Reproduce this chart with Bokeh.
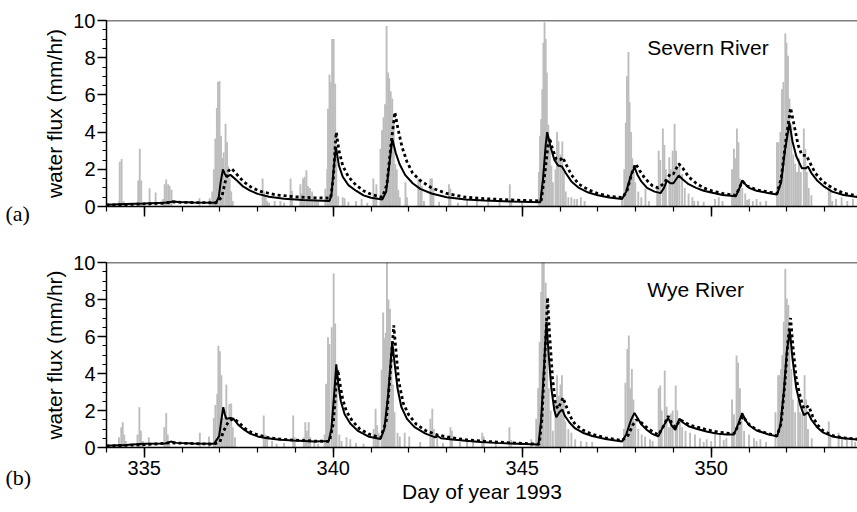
from bokeh.plotting import figure
from bokeh.models import Range1d, FixedTicker, Span, Label, CustomJSTickFormatter
from bokeh.layouts import column, row
from bokeh.core.properties import value
from bokeh.embed import file_html
from bokeh.resources import INLINE

# ---------------- data ----------------
x_major_ticks = [335, 340, 345, 350]
x_minor_ticks = list(range(334, 355))
y_major_ticks = [0, 2, 4, 6, 8, 10]
y_minor_ticks = [i * 0.5 for i in range(21)]

# Severn River: rainfall (grey bars)
severn_rain_day = [334.33, 334.35, 334.40, 334.45, 334.83, 334.84, 334.88, 334.92, 335.14, 335.30,
                   335.50, 335.54, 335.58, 335.63, 335.67, 335.72, 336.46, 336.73, 336.80, 336.84,
                   336.88, 336.92, 336.95, 336.99, 337.03, 337.06, 337.10, 337.15, 337.19, 337.22,
                   337.26, 337.30, 337.34, 338.13, 338.17, 338.21, 338.30, 338.45, 338.60, 338.87,
                   338.91, 339.13, 339.17, 339.20, 339.24, 339.29, 339.33, 339.38, 339.44, 339.50,
                   339.60, 339.79, 339.84, 339.86, 339.90, 339.93, 339.97, 340.01, 340.05, 340.08,
                   340.13, 340.25, 340.30, 340.60, 340.75, 341.06, 341.10, 341.14, 341.25, 341.29,
                   341.33, 341.37, 341.41, 341.45, 341.48, 341.52, 341.56, 341.60, 341.64, 341.68,
                   341.72, 341.76, 341.91, 341.95, 342.25, 342.30, 342.34, 342.57, 342.61, 342.65,
                   343.06, 343.10, 343.54, 343.80, 344.10, 344.40, 344.67, 344.71, 345.00, 345.44,
                   345.47, 345.50, 345.53, 345.56, 345.59, 345.62, 345.65, 345.69, 345.73, 345.77,
                   345.81, 345.88, 345.92, 345.96, 346.01, 346.06, 346.10, 346.15, 346.22, 346.30,
                   346.38, 346.55, 347.64, 347.70, 347.74, 347.77, 347.81, 347.84, 347.88, 347.91,
                   347.95, 347.99, 348.07, 348.15, 348.26, 348.57, 348.61, 348.65, 348.72, 348.76,
                   348.80, 348.89, 348.93, 348.98, 349.03, 349.07, 349.11, 349.16, 349.23, 349.30,
                   349.40, 349.50, 349.65, 349.80, 350.10, 350.20, 350.55, 350.60, 350.64, 350.68,
                   350.72, 350.76, 350.82, 350.90, 351.00, 351.20, 351.45, 351.74, 351.78, 351.83,
                   351.87, 351.91, 351.96, 351.99, 352.03, 352.07, 352.12, 352.17, 352.22, 352.27,
                   352.32, 352.37, 352.45, 352.49, 352.53, 352.58, 352.65, 353.11, 353.15, 353.30,
                   353.45, 353.60, 353.75, 338.25, 338.70, 339.55, 340.40, 340.90, 342.40, 342.80,
                   343.30, 346.45, 346.65, 348.35, 349.55, 350.30, 350.95, 351.10, 351.30, 353.20]
severn_rain_val = [0.3, 2.4, 2.56, 0.3, 0.3, 1.4, 3.1, 1.4, 0.98, 0.75,
                   0.4, 1.2, 1.45, 1.2, 1.1, 0.9, 0.45, 0.45, 0.8, 2.0,
                   3.65, 5.3, 6.7, 6.75, 3.8, 2.6, 2.9, 4.45, 3.45, 2.15,
                   1.55, 0.8, 0.3, 1.5, 0.8, 0.5, 0.2, 0.3, 0.3, 1.5,
                   0.85, 1.2, 0.7, 1.5, 1.6, 1.95, 1.1, 1.0, 0.8, 0.5,
                   0.3, 0.95, 2.0, 5.25, 7.1, 6.7, 9.0, 9.0, 6.6, 3.1,
                   0.55, 0.5, 0.45, 0.3, 0.4, 1.5, 0.5, 1.2, 3.1, 4.1,
                   4.8, 5.5, 9.7, 7.2, 6.9, 6.2, 5.8, 4.55, 2.3, 2.0,
                   0.9, 0.5, 1.3, 0.5, 1.5, 1.4, 1.1, 1.5, 1.5, 1.0,
                   1.2, 0.95, 0.4, 0.3, 0.3, 0.35, 1.2, 0.45, 0.2, 1.85,
                   3.8, 4.7, 6.3, 8.8, 9.9, 9.0, 7.2, 4.4, 3.4, 2.2,
                   1.3, 2.0, 4.0, 3.5, 2.8, 3.5, 1.85, 0.8, 0.5, 0.5,
                   0.4, 0.5, 0.5, 2.0, 4.5, 7.0, 8.3, 5.6, 4.0, 2.6,
                   1.85, 1.3, 0.8, 0.5, 0.95, 1.0, 3.0, 2.5, 4.2, 3.3,
                   2.0, 2.65, 2.0, 3.0, 4.45, 3.0, 2.0, 2.3, 1.75, 1.0,
                   0.7, 0.5, 0.3, 0.25, 0.4, 0.5, 2.0, 3.1, 2.6, 4.2,
                   3.45, 1.5, 1.0, 0.7, 0.4, 0.4, 0.3, 3.45, 3.45, 4.0,
                   6.3, 6.7, 9.3, 8.8, 8.1, 5.8, 4.4, 2.8, 2.3, 1.85,
                   2.6, 1.85, 4.2, 3.1, 1.85, 1.0, 0.6, 1.2, 0.8, 0.4,
                   0.5, 0.3, 0.4, 0.3, 0.2, 0.3, 0.25, 0.2, 0.3, 0.25,
                   0.2, 0.4, 0.3, 0.3, 0.3, 0.3, 0.35, 0.3, 0.25, 0.3]

# Severn River: solid line
severn_solid_day = [334.0, 334.5, 335.0, 335.5, 335.65, 335.75, 335.9, 336.3, 336.9, 336.97,
                    337.02, 337.08, 337.13, 337.18, 337.28, 337.45, 337.6, 337.8, 338.0, 338.3,
                    338.7, 339.2, 339.9, 339.95, 340.0, 340.07, 340.15, 340.25, 340.4, 340.6,
                    340.8, 341.0, 341.3, 341.4, 341.48, 341.56, 341.65, 341.75, 341.9, 342.1,
                    342.3, 342.6, 343.0, 343.5, 344.0, 344.7, 345.48, 345.55, 345.62, 345.66,
                    345.75, 345.85, 345.95, 346.05, 346.15, 346.3, 346.5, 346.75, 347.0, 347.3,
                    347.64, 347.75, 347.88, 347.97, 348.05, 348.15, 348.3, 348.5, 348.66, 348.75,
                    348.83, 348.92, 349.0, 349.14, 349.25, 349.4, 349.6, 349.8, 350.0, 350.3,
                    350.65, 350.75, 350.82, 350.9, 351.0, 351.2, 351.5, 351.74, 351.85, 351.95,
                    352.07, 352.15, 352.25, 352.4, 352.5, 352.56, 352.65, 352.8, 353.0, 353.2,
                    353.5, 353.9]
severn_solid_val = [0.10, 0.13, 0.16, 0.20, 0.22, 0.27, 0.24, 0.21, 0.20, 0.5,
                    1.3, 2.0, 1.75, 1.6, 1.7, 1.4, 1.1, 0.85, 0.68, 0.52,
                    0.42, 0.35, 0.3, 0.6, 1.8, 3.2, 2.2, 1.6, 1.15, 0.85,
                    0.6, 0.47, 0.38, 0.8, 2.2, 3.65, 2.9, 2.3, 1.7, 1.25,
                    0.95, 0.7, 0.5, 0.38, 0.32, 0.27, 0.23, 1.5, 3.3, 4.0,
                    3.2, 2.5, 2.2, 2.15, 1.8, 1.35, 1.0, 0.75, 0.6, 0.48,
                    0.4, 0.8, 1.7, 2.1, 1.7, 1.35, 1.0, 0.8, 0.72, 1.0,
                    1.4, 1.25, 1.25, 1.67, 1.45, 1.2, 1.0, 0.85, 0.75, 0.62,
                    0.55, 1.0, 1.4, 1.2, 1.0, 0.85, 0.72, 0.65, 1.3, 3.0,
                    4.5, 3.5, 2.7, 2.05, 2.05, 2.15, 1.8, 1.4, 1.05, 0.8,
                    0.62, 0.5]

# Severn River: dotted line
severn_dotted_day = [334.0, 334.5, 335.0, 335.5, 335.75, 336.0, 336.9, 337.05, 337.15, 337.22,
                     337.3, 337.4, 337.5, 337.65, 337.85, 338.1, 338.5, 339.0, 339.5, 339.93,
                     340.0, 340.05, 340.08, 340.15, 340.25, 340.4, 340.6, 340.8, 341.0, 341.3,
                     341.42, 341.52, 341.63, 341.72, 341.82, 341.95, 342.1, 342.3, 342.6, 343.0,
                     343.5, 344.0, 344.7, 345.5, 345.6, 345.68, 345.72, 345.8, 345.9, 346.0,
                     346.07, 346.15, 346.3, 346.5, 346.75, 347.0, 347.3, 347.66, 347.78, 347.9,
                     348.0, 348.1, 348.25, 348.45, 348.6, 348.75, 348.92, 349.0, 349.14, 349.25,
                     349.4, 349.6, 349.8, 350.0, 350.3, 350.65, 350.83, 350.95, 351.2, 351.5,
                     351.74, 351.85, 351.97, 352.1, 352.18, 352.3, 352.4, 352.52, 352.6, 352.75,
                     352.95, 353.2, 353.5, 353.9]
severn_dotted_val = [0.08, 0.1, 0.14, 0.18, 0.25, 0.22, 0.2, 0.5, 1.4, 1.9,
                     2.05, 1.85, 1.6, 1.3, 1.0, 0.8, 0.62, 0.52, 0.47, 0.45,
                     1.5, 3.2, 4.0, 3.0, 2.2, 1.6, 1.15, 0.85, 0.65, 0.5,
                     1.2, 3.2, 5.07, 4.1, 3.2, 2.4, 1.8, 1.4, 1.0, 0.7,
                     0.5, 0.42, 0.35, 0.3, 1.8, 3.3, 3.7, 3.1, 2.55, 2.5,
                     2.65, 2.3, 1.7, 1.2, 0.9, 0.7, 0.55, 0.48, 0.9, 1.8,
                     2.3, 1.95, 1.5, 1.1, 1.0, 1.25, 1.77, 1.75, 2.3, 2.05,
                     1.6, 1.25, 1.0, 0.85, 0.7, 0.6, 1.35, 1.1, 0.9, 0.78,
                     0.7, 1.5, 3.5, 5.3, 4.5, 3.3, 2.75, 2.75, 2.4, 1.8,
                     1.35, 1.0, 0.72, 0.55]

# Wye River: rainfall (grey bars)
wye_rain_day = [334.30, 334.33, 334.39, 334.43, 334.47, 334.51, 334.82, 334.87, 334.91, 334.96,
                335.12, 335.53, 335.58, 335.62, 335.66, 336.47, 336.71, 336.84, 336.88, 336.93,
                336.96, 337.00, 337.04, 337.08, 337.13, 337.17, 337.21, 337.25, 337.30, 337.34,
                337.40, 338.16, 338.20, 338.25, 338.38, 338.50, 338.94, 338.98, 339.22, 339.26,
                339.30, 339.35, 339.39, 339.50, 339.77, 339.81, 339.86, 339.90, 339.96, 340.01,
                340.05, 340.09, 340.16, 340.22, 340.35, 340.45, 340.80, 341.07, 341.12, 341.16,
                341.20, 341.28, 341.32, 341.36, 341.39, 341.42, 341.46, 341.50, 341.54, 341.58,
                341.62, 341.70, 341.76, 341.89, 342.01, 342.57, 342.62, 342.66, 342.75, 343.10,
                343.14, 343.54, 343.70, 343.94, 343.98, 344.30, 344.66, 344.71, 345.24, 345.37,
                345.42, 345.46, 345.50, 345.53, 345.57, 345.62, 345.66, 345.70, 345.75, 345.81,
                345.88, 345.92, 345.97, 346.01, 346.05, 346.10, 346.14, 346.22, 346.30, 346.40,
                346.55, 346.70, 347.69, 347.73, 347.78, 347.82, 347.86, 347.90, 347.94, 347.99,
                348.07, 348.16, 348.25, 348.38, 348.61, 348.65, 348.69, 348.77, 348.82, 348.88,
                348.93, 348.98, 349.06, 349.10, 349.17, 349.23, 349.32, 349.44, 349.57, 349.70,
                349.88, 350.00, 350.10, 350.23, 350.40, 350.55, 350.60, 350.67, 350.71, 350.76,
                350.80, 350.87, 351.00, 351.13, 351.30, 351.70, 351.77, 351.81, 351.85, 351.88,
                351.92, 351.96, 352.00, 352.04, 352.07, 352.12, 352.16, 352.22, 352.30, 352.35,
                352.41, 352.47, 352.51, 352.56, 352.66, 353.11, 353.15, 353.37, 353.46, 353.59,
                353.72, 353.81, 338.70, 339.60, 340.60, 342.30, 342.90, 343.35, 346.85, 348.45,
                349.80, 350.33, 351.20, 351.45]
wye_rain_val = [0.15, 0.56, 1.1, 1.37, 0.7, 0.35, 0.7, 2.18, 0.9, 0.35,
                0.55, 1.1, 1.86, 0.7, 0.35, 0.8, 0.6, 1.6, 2.3, 2.9,
                5.5, 5.2, 3.9, 1.6, 2.0, 3.4, 1.6, 2.35, 2.38, 1.1,
                0.56, 1.73, 0.7, 0.45, 0.35, 0.2, 1.73, 0.56, 0.56, 1.37,
                0.9, 1.37, 0.56, 0.35, 0.7, 3.44, 5.96, 5.6, 6.5, 9.4,
                6.7, 3.7, 0.7, 0.35, 0.55, 0.45, 0.2, 1.0, 2.1, 1.2,
                0.8, 4.2, 7.3, 5.9, 6.2, 10.0, 8.0, 7.5, 5.2, 3.4,
                1.9, 0.8, 0.6, 0.8, 0.6, 1.55, 2.1, 1.0, 0.6, 1.1,
                0.9, 0.45, 0.3, 0.8, 0.6, 0.3, 1.1, 0.4, 0.45, 1.55,
                3.2, 5.7, 8.4, 10.0, 10.0, 8.9, 7.5, 3.2, 2.0, 0.9,
                2.45, 3.9, 2.8, 3.4, 3.9, 2.45, 1.4, 1.0, 0.8, 0.45,
                0.35, 0.3, 1.0, 3.5, 5.33, 6.05, 3.2, 4.25, 2.6, 1.4,
                1.0, 0.7, 0.6, 0.45, 3.2, 3.35, 2.0, 4.16, 2.2, 1.1,
                1.84, 2.0, 3.35, 2.0, 1.46, 1.1, 0.9, 0.8, 0.7, 0.5,
                0.45, 0.35, 0.9, 0.7, 0.5, 2.6, 1.8, 4.97, 4.6, 3.2,
                1.46, 0.9, 0.7, 0.5, 0.45, 1.9, 3.9, 3.9, 4.25, 5.0,
                6.8, 9.66, 8.04, 7.7, 6.5, 4.25, 2.6, 1.9, 2.6, 1.9,
                1.8, 3.9, 2.6, 1.0, 0.5, 1.4, 0.6, 0.8, 0.6, 0.45,
                0.45, 0.3, 0.25, 0.2, 0.25, 0.3, 0.25, 0.3, 0.3, 0.35,
                0.3, 0.4, 0.35, 0.3]

# Wye River: solid line
wye_solid_day = [334.0, 334.5, 334.98, 335.55, 335.7, 335.85, 336.3, 336.84, 336.98, 337.04,
                 337.09, 337.13, 337.17, 337.28, 337.36, 337.5, 337.65, 337.8, 338.0, 338.25,
                 338.6, 338.95, 339.5, 339.88, 339.95, 340.02, 340.08, 340.14, 340.2, 340.3,
                 340.45, 340.65, 340.95, 341.25, 341.35, 341.45, 341.56, 341.62, 341.7, 341.8,
                 341.95, 342.15, 342.44, 342.7, 342.76, 342.85, 343.15, 343.5, 343.9, 344.3,
                 344.7, 345.43, 345.5, 345.58, 345.64, 345.7, 345.77, 345.85, 345.9, 345.98,
                 346.06, 346.13, 346.25, 346.4, 346.6, 346.85, 347.2, 347.64, 347.75, 347.88,
                 347.97, 348.05, 348.15, 348.3, 348.45, 348.6, 348.72, 348.86, 348.95, 349.05,
                 349.16, 349.25, 349.4, 349.63, 349.9, 350.15, 350.4, 350.6, 350.72, 350.82,
                 350.9, 351.0, 351.2, 351.5, 351.74, 351.83, 351.92, 352.0, 352.08, 352.15,
                 352.25, 352.36, 352.45, 352.56, 352.65, 352.8, 352.95, 353.2, 353.5, 353.9]
wye_solid_val = [0.1, 0.14, 0.2, 0.22, 0.32, 0.25, 0.21, 0.2, 0.6, 1.5,
                 2.18, 1.8, 1.55, 1.6, 1.55, 1.2, 0.95, 0.75, 0.6, 0.5,
                 0.42, 0.38, 0.33, 0.35, 1.0, 2.8, 4.5, 3.3, 2.5, 1.8,
                 1.3, 0.9, 0.58, 0.46, 1.0, 2.8, 5.7, 4.6, 3.2, 2.2,
                 1.55, 1.1, 0.75, 0.55, 0.62, 0.5, 0.43, 0.36, 0.3, 0.25,
                 0.22, 0.16, 1.5, 4.5, 6.8, 5.0, 3.2, 2.0, 1.64, 1.9,
                 2.05, 1.7, 1.35, 1.03, 0.8, 0.62, 0.46, 0.32, 0.7, 1.5,
                 1.87, 1.6, 1.25, 0.95, 0.72, 0.6, 1.1, 1.6, 1.2, 0.95,
                 1.56, 1.35, 1.15, 1.0, 0.85, 0.75, 0.7, 0.7, 1.3, 1.86,
                 1.5, 1.2, 0.92, 0.72, 0.6, 1.2, 3.0, 5.2, 6.3, 4.8,
                 3.2, 2.27, 1.75, 1.9, 1.5, 1.1, 0.82, 0.6, 0.5, 0.43]

# Wye River: dotted line
wye_dotted_day = [334.0, 334.98, 335.7, 336.84, 337.0, 337.1, 337.2, 337.3, 337.38, 337.5,
                  337.65, 337.8, 338.0, 338.25, 338.6, 338.95, 339.5, 339.9, 340.0, 340.07,
                  340.12, 340.18, 340.25, 340.35, 340.5, 340.7, 340.95, 341.25, 341.4, 341.5,
                  341.6, 341.66, 341.73, 341.85, 342.0, 342.2, 342.44, 342.75, 343.15, 343.5,
                  343.9, 344.7, 345.45, 345.52, 345.6, 345.67, 345.72, 345.8, 345.88, 345.95,
                  346.08, 346.15, 346.25, 346.4, 346.6, 346.85, 347.2, 347.64, 347.8, 347.92,
                  348.02, 348.12, 348.25, 348.45, 348.6, 348.75, 348.86, 348.95, 349.05, 349.18,
                  349.3, 349.45, 349.63, 349.9, 350.15, 350.4, 350.6, 350.72, 350.84, 350.92,
                  351.0, 351.2, 351.5, 351.74, 351.85, 351.95, 352.03, 352.1, 352.16, 352.25,
                  352.36, 352.45, 352.58, 352.68, 352.8, 352.95, 353.2, 353.5, 353.9]
wye_dotted_val = [0.08, 0.15, 0.25, 0.18, 0.3, 0.9, 1.3, 1.5, 1.55, 1.35,
                  1.05, 0.85, 0.68, 0.55, 0.45, 0.4, 0.35, 0.33, 1.3, 3.2,
                  4.2, 3.4, 2.6, 1.95, 1.45, 1.0, 0.72, 0.52, 1.4, 3.8,
                  6.6, 5.2, 3.6, 2.4, 1.75, 1.25, 0.92, 0.68, 0.52, 0.42,
                  0.35, 0.25, 0.18, 1.5, 5.0, 8.1, 6.2, 3.8, 2.3, 2.1,
                  2.7, 2.3, 1.75, 1.25, 0.95, 0.72, 0.52, 0.38, 0.65, 1.2,
                  1.5, 1.4, 1.15, 0.85, 0.68, 1.2, 1.7, 1.35, 1.1, 1.5,
                  1.35, 1.2, 1.1, 0.95, 0.85, 0.78, 0.74, 1.2, 1.7, 1.45,
                  1.25, 0.95, 0.75, 0.62, 1.3, 3.5, 5.8, 7.0, 5.5, 3.7,
                  2.7, 2.1, 2.25, 1.7, 1.25, 0.92, 0.65, 0.52, 0.45]

river_names = ["Severn River", "Wye River"]
panel_tags = ["(a)", "(b)"]
x_axis_title = "Day of year 1993"
y_axis_title = "water flux (mm/hr)"

# ---------------- styling ----------------
SANS = "Liberation Sans"
SERIF = "Liberation Serif"
BAR_COLOR = "#bdbdbd"
X_START, X_END = 334.0, 353.87
TAG_W = 40          # width of the narrow strip that carries the (a)/(b) tags
FRAME_LEFT = 106    # left edge of the plotting frame in the page


def make_tag(tag, height, y_from_top):
    t = figure(width=TAG_W, height=height, output_backend="svg", toolbar_location=None,
               x_range=Range1d(0, TAG_W), y_range=Range1d(0, height),
               x_axis_type=None, y_axis_type=None, frame_align=False,
               min_border=0, min_border_left=0, min_border_right=0,
               min_border_top=0, min_border_bottom=0)
    t.grid.visible = False
    t.outline_line_color = None
    t.text(x=[5], y=[height - y_from_top], text=[tag], text_font=value(SERIF),
           text_font_size="22px", text_color="black", text_baseline="middle",
           text_align="left")
    return t


def make_panel(rain_d, rain_v, sol_d, sol_v, dot_d, dot_v, name, height,
               top_border, bottom_border, show_x_labels):
    p = figure(width=857 - TAG_W, height=height, output_backend="svg", toolbar_location=None,
               x_range=Range1d(X_START, X_END), y_range=Range1d(0, 10),
               min_border_left=FRAME_LEFT - TAG_W, min_border_right=0,
               min_border_top=top_border, min_border_bottom=bottom_border)
    p.outline_line_color = None
    p.grid.visible = False
    p.background_fill_color = "white"
    p.border_fill_color = "white"

    p.vbar(x=rain_d, top=rain_v, width=0.05, color=BAR_COLOR, line_color=None)
    p.line(dot_d, dot_v, line_color="black", line_width=2.8, line_dash="3 3")
    p.line(sol_d, sol_v, line_color="black", line_width=2.0)

    p.add_layout(Span(location=10, dimension="width", line_color="black", line_width=1.5))

    # y axis
    ya = p.yaxis[0]
    ya.ticker = FixedTicker(ticks=y_major_ticks, minor_ticks=y_minor_ticks)
    ya.axis_label = y_axis_title
    ya.axis_label_text_font = SANS
    ya.axis_label_text_font_size = "21px"
    ya.axis_label_text_font_style = "normal"
    ya.axis_label_standoff = 4
    ya.major_label_text_font = SANS
    ya.major_label_text_font_size = "20px"
    ya.major_label_standoff = 2
    ya.major_tick_out = 9
    ya.major_tick_in = 0
    ya.minor_tick_out = 4
    ya.minor_tick_in = 0
    ya.axis_line_width = 1.5
    ya.major_tick_line_width = 1.5
    ya.minor_tick_line_width = 1.2
    ya.axis_line_color = "black"
    ya.major_tick_line_color = "black"
    ya.minor_tick_line_color = "black"
    ya.major_label_text_color = "black"
    ya.axis_label_text_color = "black"

    # x axis
    xa = p.xaxis[0]
    xa.ticker = FixedTicker(ticks=x_major_ticks, minor_ticks=x_minor_ticks)
    xa.major_tick_out = 10
    xa.major_tick_in = 0
    xa.minor_tick_out = 5
    xa.minor_tick_in = 0
    xa.axis_line_width = 1.5
    xa.major_tick_line_width = 1.5
    xa.minor_tick_line_width = 1.2
    xa.axis_line_color = "black"
    xa.major_tick_line_color = "black"
    xa.minor_tick_line_color = "black"
    if show_x_labels:
        xa.axis_label = x_axis_title
        xa.axis_label_text_font = SANS
        xa.axis_label_text_font_size = "21px"
        xa.axis_label_text_font_style = "normal"
        xa.axis_label_text_color = "black"
        xa.axis_label_standoff = 2
        xa.major_label_text_font = SANS
        xa.major_label_text_font_size = "20px"
        xa.major_label_text_color = "black"
        xa.major_label_standoff = 3
    else:
        xa.formatter = CustomJSTickFormatter(code="return '';")
        xa.major_label_text_font_size = "1px"

    p.add_layout(Label(x=348.31, y=8.55, text=name, text_font=SANS, text_font_size="21px",
                       text_color="black", text_baseline="alphabetic", text_align="left"))
    return p


pa = make_panel(severn_rain_day, severn_rain_val, severn_solid_day, severn_solid_val,
                severn_dotted_day, severn_dotted_val, river_names[0],
                height=230, top_border=20, bottom_border=24, show_x_labels=False)
pb = make_panel(wye_rain_day, wye_rain_val, wye_solid_day, wye_solid_val,
                wye_dotted_day, wye_dotted_val, river_names[1],
                height=282, top_border=32, bottom_border=65, show_x_labels=True)
ta = make_tag(panel_tags[0], 230, 213)
tb = make_tag(panel_tags[1], 282, 477 - 230)

layout = column(row(ta, pa, spacing=0), row(tb, pb, spacing=0), spacing=0)
open("out.html", "w").write(file_html(layout, INLINE))
